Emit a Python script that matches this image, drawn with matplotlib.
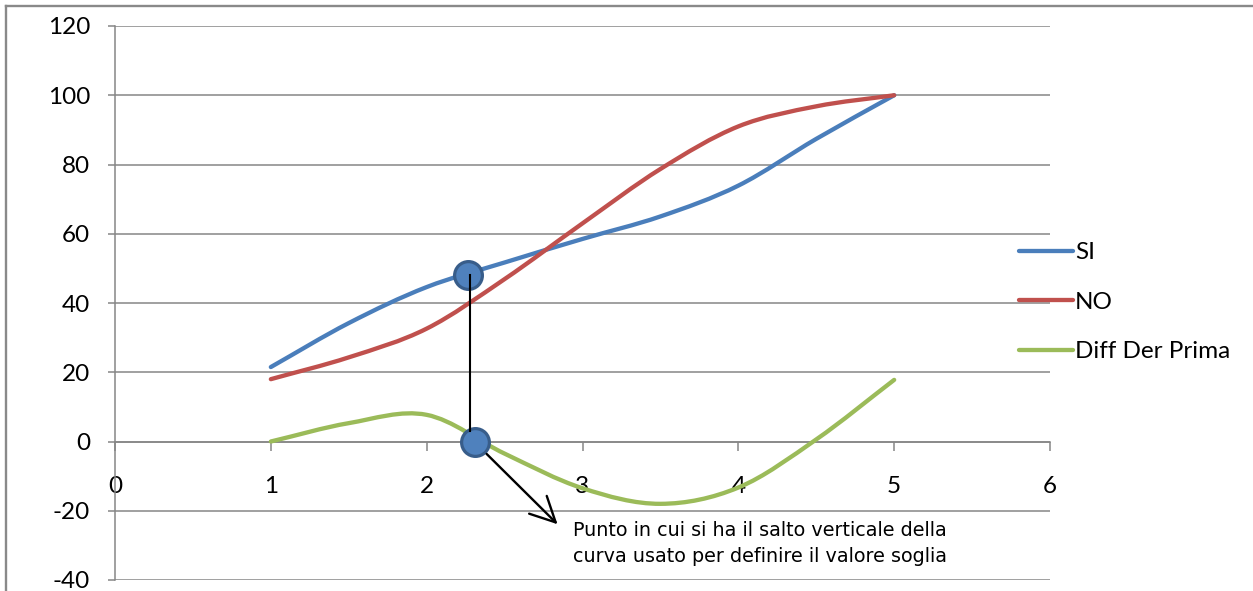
import numpy as np
import matplotlib
matplotlib.use('Agg')
import matplotlib.pyplot as plt
from matplotlib.path import Path
from matplotlib.patches import PathPatch
from matplotlib.lines import Line2D

plt.rcParams['font.family'] = ['Lato', 'DejaVu Sans']
plt.rcParams['axes.unicode_minus'] = False

# values
x = [1, 1.5, 2, 2.5, 3, 3.5, 4, 4.5, 5]
si = [21.5, 34.2, 44.6, 51.7, 58.5, 65.0, 73.9, 87.4, 100]
no = [18.0, 24.3, 32.6, 46.9, 63.0, 78.7, 91.0, 96.8, 100]
diff = [0, 5.3, 7.7, -3.5, -13.5, -18.0, -13.3, 0.6, 17.8]
labels = ['SI', 'NO', 'Diff Der Prima']
colors = ['#4A7EBB', '#C0504D', '#9BBB59']

# the highlighted threshold point
point_x = [2.263, 2.31]
point_y = [48.0, 0]
note = 'Punto in cui si ha il salto verticale della\ncurva usato per definire il valore soglia'


def smooth_path(xs, ys):
    # excel style smoothed line: bezier segments through the points
    pts = np.column_stack([xs, ys]).astype(float)
    # mirrored end points so the ends follow the first / last chord
    pts = np.vstack([2 * pts[0] - pts[1], pts, 2 * pts[-1] - pts[-2]])
    verts = [pts[1]]
    codes = [Path.MOVETO]
    for i in range(1, len(pts) - 2):
        p0, p1, p2, p3 = pts[i - 1], pts[i], pts[i + 1], pts[i + 2]
        verts += [p1 + (p2 - p0) / 6, p2 - (p3 - p1) / 6, p2]
        codes += [Path.CURVE4] * 3
    return Path(verts, codes)


fig = plt.figure(figsize=(12.53, 5.91), dpi=100)
ax = fig.add_axes([115 / 1253, 11 / 591, 935 / 1253, 554 / 591])

grey = '#868686'
ax.set_xlim(0, 6)
ax.set_ylim(-40, 120)
ax.set_yticks(range(-40, 121, 20))
ax.set_xticks(range(0, 7))
ax.yaxis.grid(True, color=grey, lw=1.1)
ax.set_axisbelow(True)

for side in ['top', 'right']:
    ax.spines[side].set_visible(False)
ax.spines['bottom'].set_position(('data', 0))
ax.spines['bottom'].set_color(grey)
ax.spines['left'].set_color(grey)
ax.spines['bottom'].set_linewidth(1.1)
ax.spines['left'].set_linewidth(1.1)

ax.tick_params(axis='y', length=5, width=1.1, color=grey, pad=13, labelsize=17.5)
ax.tick_params(axis='x', length=6.5, width=1.1, color=grey, pad=18, labelsize=17.5)

handles = []
for ys, c, lab in zip([si, no, diff], colors, labels):
    ax.add_patch(PathPatch(smooth_path(x, ys), facecolor='none', edgecolor=c,
                           lw=3.1, capstyle='round', joinstyle='round', zorder=3))
    handles.append(Line2D([], [], color=c, lw=3.1, solid_capstyle='round', label=lab))

# vertical connector, markers and arrow
ax.plot([2.276, 2.276], [point_y[0], 3.1], color='black', lw=1.5, zorder=6)
ax.plot(point_x, point_y, 'o', ms=20, mfc='#4F81BD', mec='#385D8A',
        mew=2.3, zorder=5)
ax.annotate('', xy=(2.84, -23.9), xytext=(2.385, -3.6),
            arrowprops=dict(arrowstyle='->,head_length=0.9,head_width=0.45',
                            lw=1.7, color='black', shrinkA=0, shrinkB=0,
                            mutation_scale=20), zorder=6)
ax.text(2.936, -29.4, note, ha='left', va='center', fontsize=13.8,
        family=['Liberation Sans Narrow', 'DejaVu Sans Condensed', 'DejaVu Sans'],
        linespacing=1.45)

ax.legend(handles=handles, loc='upper left', bbox_to_anchor=(1007 / 1253, 1 - 230 / 591),
          bbox_transform=fig.transFigure, frameon=False, fontsize=17.5,
          handlelength=2.2, handletextpad=0.1, labelspacing=1.17, borderpad=0)

# outer chart border (top and left edges visible)
fig.add_artist(Line2D([6 / 1253, 1], [1 - 6 / 591, 1 - 6 / 591], color='#898989', lw=1.7))
fig.add_artist(Line2D([6 / 1253, 6 / 1253], [0, 1 - 6 / 591], color='#898989', lw=1.7))

fig.savefig('out.png', dpi=100)
